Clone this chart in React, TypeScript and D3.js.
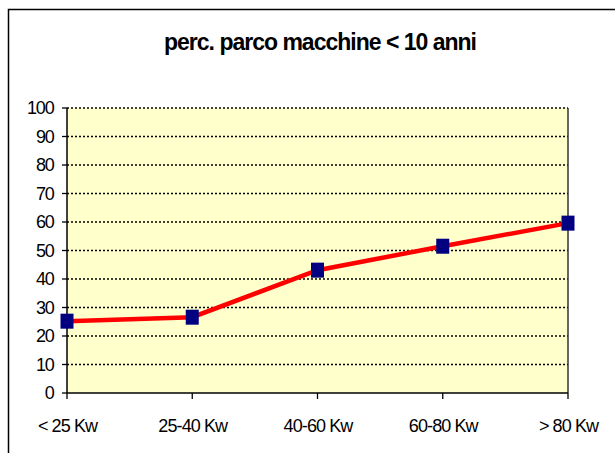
import React from "react";
import * as d3 from "d3";

const categories = ["< 25 Kw", "25-40 Kw", "40-60 Kw", "60-80 Kw", "> 80 Kw"];
const values = [25.2, 26.6, 43.1, 51.5, 59.6];
const yTicks = [0, 10, 20, 30, 40, 50, 60, 70, 80, 90, 100];
const title = "perc. parco macchine < 10 anni";

export default function App() {
  const W = 615, H = 453;
  const left = 67, right = 568, top = 108, bottom = 393;
  const x = d3.scalePoint<string>().domain(categories).range([left, right]).padding(0);
  const y = d3.scaleLinear().domain([0, 100]).range([bottom, top]);
  const line = d3.line<number>().x((_, i) => x(categories[i])!).y((d) => y(d));
  const font = "'Liberation Sans', Arial, sans-serif";
  return (
    <svg width={W} height={H} style={{ position: "absolute", left: 0, top: 0, background: "#fff" }}>
      <rect x={8.5} y={9.5} width={800} height={800} fill="#fff" stroke="#000" strokeWidth={1.5} />
      <text x={320} y={50} textAnchor="middle" fontFamily={font} fontWeight="bold" fontSize={23} letterSpacing={-1} fill="#000">
        {title}
      </text>
      <rect x={left} y={top} width={right - left} height={bottom - top} fill="#FFFFCC" />
      {yTicks.filter((t) => t > 0).map((t) => (
        <line key={t} x1={left} x2={right} y1={y(t)} y2={y(t)} stroke="#000" strokeWidth={1.3} strokeDasharray="2,2" />
      ))}
      <line x1={right} x2={right} y1={top} y2={bottom} stroke="#333" strokeWidth={1.5} />
      <line x1={left} x2={left} y1={top} y2={bottom} stroke="#000" strokeWidth={1.5} />
      <line x1={left} x2={right} y1={bottom} y2={bottom} stroke="#000" strokeWidth={1.5} />
      {yTicks.map((t) => (
        <g key={t}>
          <line x1={left - 5} x2={left} y1={y(t)} y2={y(t)} stroke="#000" strokeWidth={1.3} />
          <text x={53.5} y={y(t)} dy="0.36em" textAnchor="end" fontFamily={font} fontSize={18} letterSpacing={-1.2} fill="#000">
            {t}
          </text>
        </g>
      ))}
      {categories.map((c) => (
        <g key={c}>
          <line x1={x(c)!} x2={x(c)!} y1={bottom} y2={bottom + 6} stroke="#000" strokeWidth={1.3} />
          <text x={x(c)! + 0.5} y={431.5} textAnchor="middle" fontFamily={font} fontSize={18} letterSpacing={-0.9} fill="#000">
            {c}
          </text>
        </g>
      ))}
      <path d={line(values)!} fill="none" stroke="#FF0000" strokeWidth={4.5} />
      {values.map((v, i) => (
        <rect key={i} x={x(categories[i])! - 6.5} y={y(v) - 7.5} width={13} height={15} fill="#000080" />
      ))}
    </svg>
  );
}
